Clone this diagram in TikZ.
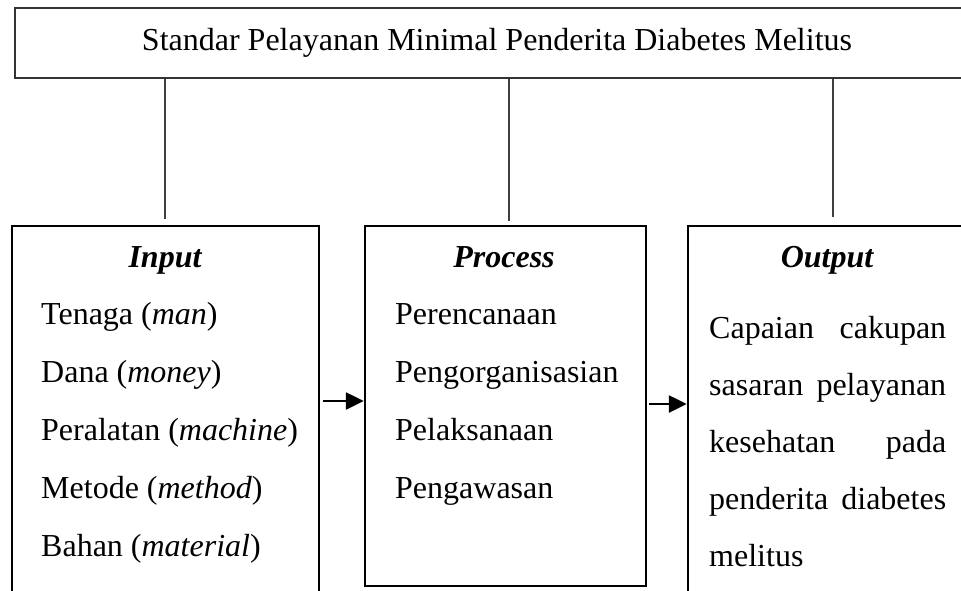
\documentclass[tikz,border=0pt]{standalone}
\usepackage{fontspec}
\setmainfont{Liberation Serif}
\usetikzlibrary{arrows.meta}
\begin{document}
\begin{tikzpicture}[x=1pt,y=1pt,
  box/.style={draw=black,line width=2.5pt,rectangle,inner sep=0pt},
  topbox/.style={draw=black!80,line width=1.6pt,rectangle,inner sep=0pt},
  link/.style={draw=black!75,line width=1.1pt},
  arr/.style={line width=2.6pt,-{Triangle[length=18pt,width=17pt]}},
  txt/.style={inner sep=0pt,anchor=base west,font=\fontsize{32}{38}\selectfont},
  ttl/.style={inner sep=0pt,anchor=base,font=\fontsize{32}{38}\selectfont\bfseries\itshape}]
\useasboundingbox (0,0) rectangle (961,-590);
\clip (0,0) rectangle (961,-590);
\fill[white] (0,0) rectangle (961,-590);
% boxes
\node[topbox,minimum width=964pt,minimum height=70pt] (top) at (497,-43) {};
\node[inner sep=0pt,font=\fontsize{32}{38}\selectfont] (toptxt) at (497,-43) {Standar Pelayanan Minimal Penderita Diabetes Melitus};
\node[box,minimum width=307pt,minimum height=394pt] (inp) at (165.5,-423) {};
\node[box,minimum width=281pt,minimum height=360pt] (proc) at (505.5,-406) {};
\node[box,minimum width=312pt,minimum height=394pt] (out) at (844,-423) {};
% connectors from top box
\coordinate (c1) at (165,-219);
\coordinate (c2) at (509,-221);
\coordinate (c3) at (833,-217);
\draw[link] (top.south -| c1) -- (c1);
\draw[link] (top.south -| c2) -- (c2);
\draw[link] (top.south -| c3) -- (c3);
% arrows
\coordinate (a1) at (323,-401);
\coordinate (a2) at (649,-404);
\draw[arr] (a1) -- (a1 -| proc.west);
\draw[arr] (a2) -- (a2 -| out.west);
% Input texts
\node[ttl] (tin) at (165,-267) {Input};
\node[txt] (i1) at (41,-324) {Tenaga (\textit{man})};
\node[txt] (i2) at (41,-382) {Dana (\textit{money})};
\node[txt] (i3) at (41,-440) {Peralatan (\textit{machine})};
\node[txt] (i4) at (41,-498) {Metode (\textit{method})};
\node[txt] (i5) at (41,-556) {Bahan (\textit{material})};
% Process texts
\node[ttl] (tpr) at (504,-267) {Process};
\node[txt] (p1) at (395,-324) {Perencanaan};
\node[txt] (p2) at (395,-382) {Pengorganisasian};
\node[txt] (p3) at (395,-440) {Pelaksanaan};
\node[txt] (p4) at (395,-498) {Pengawasan};
% Output texts
\node[ttl] (tou) at (827,-267) {Output};
\node[txt] (o1) at (709,-338) {\makebox[237pt][s]{Capaian cakupan}};
\node[txt] (o2) at (709,-395) {\makebox[237pt][s]{sasaran pelayanan}};
\node[txt] (o3) at (709,-452) {\makebox[237pt][s]{kesehatan pada}};
\node[txt] (o4) at (709,-509) {\makebox[237pt][s]{penderita diabetes}};
\node[txt] (o5) at (709,-566) {melitus};
\end{tikzpicture}
\end{document}
